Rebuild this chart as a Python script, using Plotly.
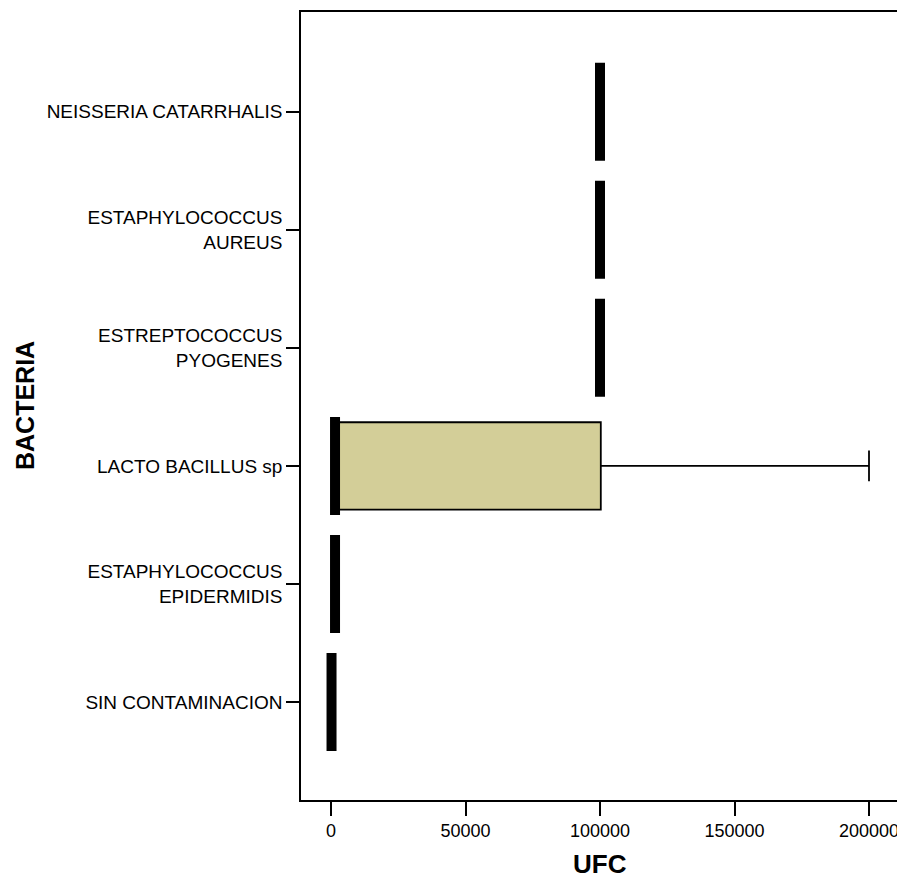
import plotly.graph_objects as go

categories = ["SIN CONTAMINACION", "ESTAPHYLOCOCCUS<br>EPIDERMIDIS", "LACTO BACILLUS sp",
              "ESTREPTOCOCCUS<br>PYOGENES", "ESTAPHYLOCOCCUS<br>AUREUS", "NEISSERIA CATARRHALIS"]
q1_vals = [200, 1500, 1500, 100000, 100000, 100000]
median_vals = [200, 1500, 1500, 100000, 100000, 100000]
q3_vals = [200, 1500, 100300, 100000, 100000, 100000]
lower_vals = [200, 1500, 1500, 100000, 100000, 100000]
upper_vals = [200, 1500, 200000, 100000, 100000, 100000]
x_ticks = [0, 50000, 100000, 150000, 200000]
x_ticklabels = ["0", "50000", "100000", "150000", "200000"]

positions = list(range(len(categories)))
FILL = "#D3CE98"

fig = go.Figure()
fig.add_trace(go.Box(
    y=positions, q1=q1_vals, median=median_vals, q3=q3_vals,
    lowerfence=lower_vals, upperfence=upper_vals,
    orientation="h", width=0.74, whiskerwidth=0.35,
    fillcolor=FILL, line=dict(color="black", width=1.8),
    boxpoints=False, hoverinfo="skip", showlegend=False,
))

# thick SPSS-style median bars
mx, my = [], []
half = 0.415
for p, m in zip(positions, median_vals):
    mx += [m, m, None]
    my += [p - half, p + half, None]
fig.add_trace(go.Scatter(x=mx, y=my, mode="lines",
                         line=dict(color="black", width=10),
                         hoverinfo="skip", showlegend=False))

font = "Liberation Sans, Arial, sans-serif"
# page body has an 8px margin; plot area targeted at x 301-898, y 10-800 of the window
W, H = 897, 871
fig.update_layout(
    width=W, height=H,
    margin=dict(l=293, r=7, t=2, b=79),
    paper_bgcolor="white", plot_bgcolor="white",
    font=dict(family=font, color="black", size=19),
    xaxis=dict(range=[-11150, 210780], tickvals=x_ticks, ticktext=x_ticklabels,
               ticks="outside", ticklen=14, tickwidth=1.5, tickcolor="black",
               showline=True, mirror=True, linecolor="black", linewidth=1.5,
               showgrid=False, zeroline=False, tickfont=dict(size=18, family=font)),
    yaxis=dict(range=[-0.83, 5.845], tickvals=positions, ticktext=categories,
               ticks="outside", ticklen=13, tickwidth=1.5, tickcolor="black",
               showline=True, mirror=True, linecolor="black", linewidth=1.5,
               showgrid=False, zeroline=False, tickfont=dict(size=19, family=font)),
    annotations=[
        dict(text="<b>UFC</b>", xref="paper", yref="paper", x=0.5, y=(800 - 864) / 790,
             xanchor="center", yanchor="middle", showarrow=False,
             font=dict(size=26, family=font)),
        dict(text="<b>BACTERIA</b>", xref="paper", yref="paper", x=(25 - 301) / 597, y=0.5,
             xanchor="center", yanchor="middle", showarrow=False, textangle=-90,
             font=dict(size=25, family=font)),
    ],
)

fig.write_html("out.html")
